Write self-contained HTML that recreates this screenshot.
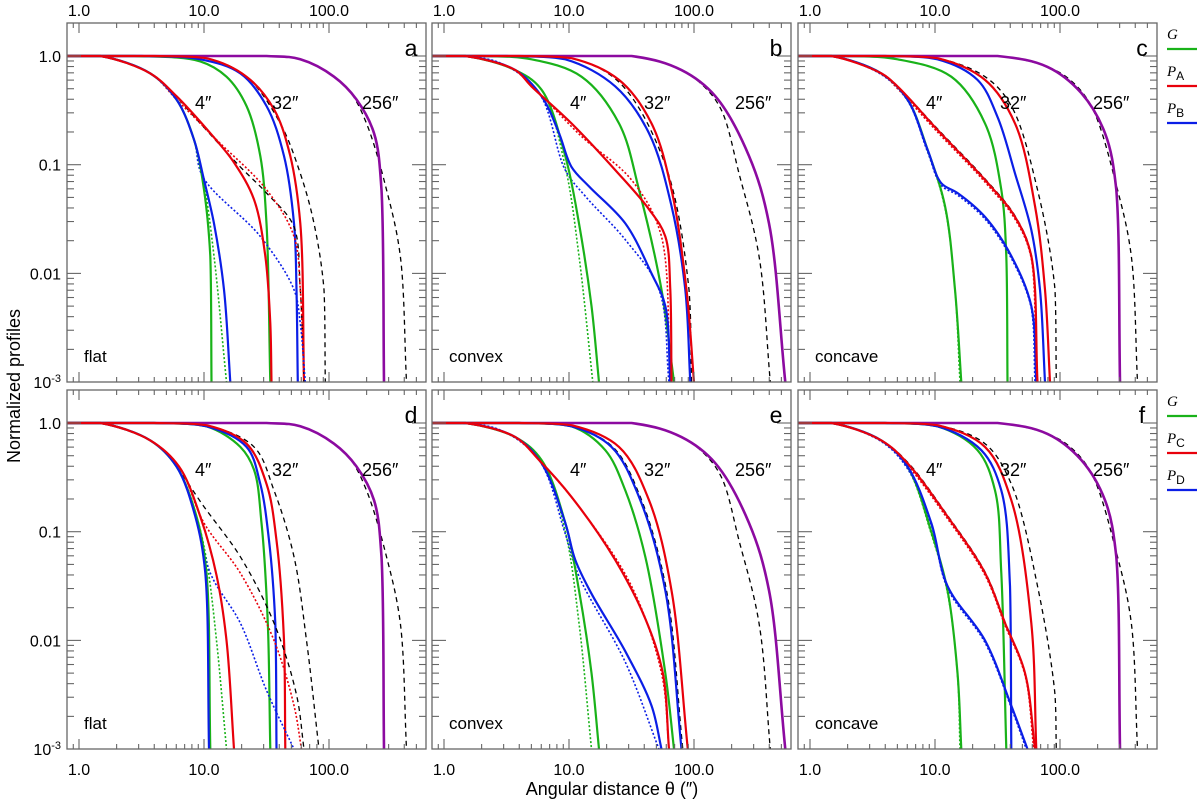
<!DOCTYPE html>
<html><head><meta charset="utf-8"><style>
html,body{margin:0;padding:0;background:#fff;}
svg{display:block;font-family:"Liberation Sans",sans-serif;}
</style></head><body>
<svg id="chart" width="1200" height="801" viewBox="0 0 1200 801"></svg>
<script>
// data: [log10(theta"), log10(profile)] pairs per series
const panelLetters = ["a","b","c","d","e","f"];
const panelShapes = ["flat","convex","concave","flat","convex","concave"];
const widthLabels = ["4″","32″","256″"];
const xTickLabels = ["1.0","10.0","100.0"];
const yTickLabels = ["1.0","0.1","0.01","10-3"];
const legendTop = ["G","PA","PB"];
const legendBottom = ["G","PC","PD"];

const p256a = [[-0.1,0],[1.5,0],[1.77,-0.03],[2.04,-0.19],[2.22,-0.40],[2.36,-0.71],[2.42,-1.23],[2.44,-3]];
const d256a = [[-0.1,0],[1.5,0],[1.77,-0.03],[2.04,-0.19],[2.17,-0.33],[2.30,-0.62],[2.46,-1.23],[2.57,-1.84],[2.62,-3]];
const p256b = [[-0.1,0],[1.5,0],[1.90,-0.13],[2.17,-0.37],[2.44,-0.92],[2.60,-1.54],[2.73,-3]];
const d256b = [[-0.1,0],[1.5,0],[1.88,-0.12],[2.08,-0.28],[2.22,-0.50],[2.36,-1.08],[2.52,-1.84],[2.61,-3]];
const p256c = [[-0.1,0],[1.5,0],[1.90,-0.10],[2.17,-0.34],[2.36,-0.71],[2.45,-1.23],[2.48,-3]];
const d256c = [[-0.1,0],[1.5,0],[1.90,-0.10],[2.08,-0.22],[2.25,-0.46],[2.46,-1.23],[2.57,-1.84],[2.62,-3]];

const panelA = {
 g32:[[-0.1,0],[0.44,0],[0.97,-0.05],[1.18,-0.19],[1.34,-0.46],[1.45,-0.92],[1.50,-1.54],[1.53,-3]],
 b32:[[-0.1,0],[0.5,0],[0.97,-0.03],[1.29,-0.16],[1.5,-0.46],[1.64,-0.92],[1.72,-1.54],[1.74,-2.15],[1.75,-3]],
 r32:[[-0.1,0],[0.6,0],[1.02,-0.02],[1.34,-0.19],[1.56,-0.49],[1.69,-0.92],[1.77,-1.54],[1.80,-3]],
 d32:[[-0.1,0],[0.6,0],[1.02,-0.02],[1.34,-0.19],[1.61,-0.62],[1.77,-1.08],[1.88,-1.54],[1.96,-2.15],[1.97,-3]],
 g4:[[-0.1,0],[0.17,0],[0.57,-0.16],[0.78,-0.40],[0.92,-0.77],[1.0,-1.23],[1.05,-1.84],[1.06,-3]],
 g4d:[[-0.1,0],[0.17,0],[0.57,-0.16],[0.78,-0.40],[0.92,-0.77],[1.0,-1.17],[1.08,-1.84],[1.18,-3]],
 b4:[[-0.1,0],[0.17,0],[0.57,-0.16],[0.78,-0.40],[0.92,-0.77],[1.0,-1.14],[1.08,-1.54],[1.16,-2.15],[1.21,-3]],
 b4d:[[-0.1,0],[0.17,0],[0.57,-0.16],[0.78,-0.40],[0.92,-0.77],[0.99,-1.11],[1.45,-1.66],[1.72,-2.15],[1.77,-2.46],[1.81,-3]],
 r4:[[-0.1,0],[0.17,0],[0.57,-0.16],[0.78,-0.37],[1.05,-0.71],[1.24,-0.98],[1.40,-1.32],[1.49,-1.84],[1.53,-2.46],[1.54,-3]],
 r4d:[[-0.1,0],[0.17,0],[0.57,-0.16],[0.78,-0.40],[1.10,-0.77],[1.50,-1.23],[1.72,-1.66],[1.77,-2.15],[1.80,-3]],
 d4:[[-0.1,0],[0.17,0],[0.57,-0.16],[0.70,-0.28],[0.97,-0.62],[1.29,-1.02],[1.50,-1.26],[1.72,-1.57],[1.77,-2.15],[1.80,-3]],
 p256:p256a, d256:d256a};
const panelB = {
 g32:[[-0.1,0],[0.3,0],[0.70,-0.03],[1.10,-0.19],[1.40,-0.62],[1.56,-1.23],[1.74,-2.15],[1.84,-3]],
 b32:[[-0.1,0],[0.5,0],[0.97,-0.03],[1.37,-0.28],[1.64,-0.71],[1.82,-1.38],[1.93,-2.15],[1.97,-3]],
 r32:[[-0.1,0],[0.6,0],[1.02,-0.02],[1.40,-0.22],[1.66,-0.62],[1.82,-1.23],[1.94,-2.15],[2.00,-3]],
 d32:[[-0.1,0],[0.6,0],[1.02,-0.02],[1.40,-0.24],[1.77,-1.0],[1.96,-2.15],[1.98,-3]],
 g4:[[-0.1,0],[0.17,0],[0.57,-0.13],[0.78,-0.31],[0.97,-0.92],[1.08,-1.54],[1.18,-2.3],[1.24,-3]],
 g4d:[[-0.1,0],[0.17,0],[0.57,-0.13],[0.78,-0.31],[0.97,-1.02],[1.08,-1.84],[1.19,-3]],
 b4:[[-0.1,0],[0.17,0],[0.57,-0.13],[0.78,-0.37],[0.92,-0.71],[1.02,-1.02],[1.16,-1.20],[1.45,-1.54],[1.66,-2.0],[1.77,-2.30],[1.81,-3]],
 b4d:[[-0.1,0],[0.1,0],[0.44,-0.06],[0.76,-0.34],[0.97,-1.05],[1.13,-1.29],[1.45,-1.69],[1.72,-2.15],[1.80,-3]],
 r4:[[-0.1,0],[0.17,0],[0.57,-0.13],[0.70,-0.28],[1.02,-0.62],[1.37,-1.05],[1.64,-1.41],[1.77,-1.66],[1.81,-2.15],[1.82,-3]],
 r4d:[[-0.1,0],[0.17,0],[0.57,-0.13],[0.76,-0.34],[1.10,-0.74],[1.50,-1.14],[1.74,-1.66],[1.81,-3]],
 d4:[[-0.1,0],[0.17,0],[0.57,-0.13],[0.70,-0.28],[1.02,-0.62],[1.37,-1.05],[1.64,-1.41],[1.77,-1.66],[1.81,-2.15],[1.82,-3]],
 p256:p256b, d256:d256b};
const panelC = {
 g32:[[-0.1,0],[0.3,0],[0.7,-0.03],[1.13,-0.19],[1.40,-0.62],[1.53,-1.23],[1.57,-1.84],[1.58,-3]],
 b32:[[-0.1,0],[0.6,0],[1.02,-0.03],[1.34,-0.22],[1.50,-0.56],[1.64,-1.08],[1.77,-1.60],[1.84,-2.15],[1.88,-3]],
 r32:[[-0.1,0],[0.6,0],[1.02,-0.02],[1.40,-0.22],[1.64,-0.62],[1.80,-1.38],[1.88,-2.15],[1.92,-3]],
 d32:[[-0.1,0],[0.6,0],[1.02,-0.02],[1.40,-0.19],[1.61,-0.46],[1.82,-1.23],[1.96,-2.15],[1.97,-3]],
 g4:[[-0.1,0],[0.17,0],[0.57,-0.16],[0.78,-0.40],[0.94,-0.86],[1.08,-1.38],[1.16,-2.15],[1.21,-3]],
 g4d:[[-0.1,0],[0.17,0],[0.57,-0.16],[0.78,-0.40],[0.94,-0.86],[1.08,-1.40],[1.16,-2.15],[1.20,-3]],
 b4:[[-0.1,0],[0.17,0],[0.57,-0.16],[0.78,-0.40],[0.94,-0.86],[1.05,-1.17],[1.18,-1.26],[1.40,-1.48],[1.61,-1.84],[1.77,-2.30],[1.81,-3]],
 b4d:[[-0.1,0],[0.17,0],[0.57,-0.17],[0.78,-0.41],[0.94,-0.88],[1.05,-1.19],[1.18,-1.28],[1.40,-1.50],[1.61,-1.86],[1.77,-2.32],[1.80,-3]],
 r4:[[-0.1,0],[0.17,0],[0.57,-0.16],[0.70,-0.28],[1.02,-0.68],[1.40,-1.14],[1.64,-1.48],[1.77,-1.84],[1.82,-3]],
 r4d:[[-0.1,0],[0.17,0],[0.57,-0.16],[0.70,-0.30],[1.02,-0.70],[1.40,-1.16],[1.64,-1.50],[1.77,-1.86],[1.81,-3]],
 d4:[[-0.1,0],[0.17,0],[0.57,-0.16],[0.70,-0.28],[1.02,-0.67],[1.40,-1.13],[1.64,-1.47],[1.77,-1.83],[1.82,-3]],
 p256:p256c, d256:d256c};
const panelD = {
 g32:[[-0.1,0],[0.6,0],[1.02,-0.03],[1.29,-0.22],[1.40,-0.43],[1.46,-0.92],[1.51,-1.84],[1.53,-3]],
 b32:[[-0.1,0],[0.6,0],[1.02,-0.03],[1.34,-0.22],[1.45,-0.56],[1.52,-1.08],[1.57,-1.84],[1.58,-3]],
 r32:[[-0.1,0],[0.6,0],[1.02,-0.02],[1.34,-0.19],[1.50,-0.56],[1.58,-1.08],[1.64,-2.0],[1.65,-3]],
 d32:[[-0.1,0],[0.6,0],[1.02,-0.02],[1.40,-0.22],[1.56,-0.62],[1.72,-1.23],[1.82,-2.0],[1.92,-3]],
 g4:[[-0.1,0],[0.17,0],[0.57,-0.16],[0.78,-0.40],[0.94,-0.86],[1.02,-1.38],[1.05,-3]],
 g4d:[[-0.1,0],[0.17,0],[0.57,-0.16],[0.78,-0.40],[0.94,-0.86],[1.02,-1.26],[1.10,-2.0],[1.18,-3]],
 b4:[[-0.1,0],[0.17,0],[0.57,-0.16],[0.78,-0.40],[0.93,-0.86],[1.01,-1.38],[1.04,-3]],
 b4d:[[-0.1,0],[0.17,0],[0.57,-0.16],[0.78,-0.40],[0.94,-0.86],[1.05,-1.38],[1.29,-1.84],[1.50,-2.46],[1.72,-3]],
 r4:[[-0.1,0],[0.17,0],[0.57,-0.16],[0.80,-0.40],[0.97,-0.86],[1.10,-1.4],[1.18,-2.0],[1.24,-3]],
 r4d:[[-0.1,0],[0.17,0],[0.57,-0.16],[0.80,-0.40],[1.0,-0.92],[1.29,-1.38],[1.56,-2.0],[1.72,-2.6],[1.78,-3]],
 d4:[[-0.1,0],[0.17,0],[0.57,-0.16],[0.70,-0.28],[1.0,-0.77],[1.29,-1.23],[1.56,-1.84],[1.74,-2.5],[1.80,-3]],
 p256:p256a, d256:d256a};
const panelE = {
 g32:[[-0.1,0],[0.6,0],[1.02,-0.03],[1.29,-0.25],[1.45,-0.62],[1.61,-1.23],[1.77,-2.3],[1.84,-3]],
 b32:[[-0.1,0],[0.6,0],[1.02,-0.03],[1.34,-0.22],[1.56,-0.68],[1.77,-1.54],[1.90,-3]],
 r32:[[-0.1,0],[0.6,0],[1.02,-0.02],[1.40,-0.22],[1.64,-0.71],[1.82,-1.54],[1.95,-3]],
 d32:[[-0.1,0],[0.6,0],[1.02,-0.03],[1.35,-0.22],[1.57,-0.68],[1.78,-1.54],[1.91,-3]],
 g4:[[-0.1,0],[0.17,0],[0.57,-0.13],[0.78,-0.34],[0.97,-0.92],[1.08,-1.54],[1.18,-2.3],[1.24,-3]],
 g4d:[[-0.1,0],[0.17,0],[0.57,-0.13],[0.78,-0.34],[0.97,-1.0],[1.08,-1.84],[1.18,-3]],
 b4:[[-0.1,0],[0.17,0],[0.57,-0.13],[0.78,-0.37],[0.97,-0.92],[1.05,-1.26],[1.18,-1.57],[1.45,-2.1],[1.66,-2.6],[1.74,-3]],
 b4d:[[-0.1,0],[0.1,0],[0.44,-0.06],[0.76,-0.34],[0.97,-1.02],[1.08,-1.41],[1.45,-2.2],[1.72,-3]],
 r4:[[-0.1,0],[0.17,0],[0.57,-0.13],[0.76,-0.34],[1.02,-0.68],[1.37,-1.26],[1.61,-1.8],[1.75,-2.3],[1.80,-3]],
 r4d:[[-0.1,0],[0.17,0],[0.57,-0.13],[0.76,-0.34],[1.10,-0.80],[1.50,-1.5],[1.74,-2.3],[1.80,-3]],
 d4:[[-0.1,0],[0.17,0],[0.57,-0.13],[0.76,-0.34],[1.02,-0.68],[1.37,-1.26],[1.61,-1.8],[1.75,-2.3],[1.80,-3]],
 p256:p256b, d256:d256b};
const panelF = {
 g32:[[-0.1,0],[0.6,0],[1.02,-0.03],[1.34,-0.25],[1.48,-0.62],[1.53,-1.38],[1.57,-3]],
 b32:[[-0.1,0],[0.6,0],[1.02,-0.03],[1.37,-0.25],[1.53,-0.62],[1.60,-1.5],[1.61,-3]],
 r32:[[-0.1,0],[0.6,0],[1.02,-0.02],[1.40,-0.22],[1.61,-0.71],[1.77,-1.84],[1.81,-3]],
 d32:[[-0.1,0],[0.6,0],[1.02,-0.02],[1.40,-0.19],[1.61,-0.56],[1.82,-1.5],[1.96,-2.5],[1.97,-3]],
 g4:[[-0.1,0],[0.17,0],[0.57,-0.16],[0.78,-0.40],[0.97,-1.0],[1.10,-1.54],[1.18,-2.3],[1.21,-3]],
 g4d:[[-0.1,0],[0.17,0],[0.57,-0.16],[0.78,-0.41],[0.97,-1.02],[1.10,-1.56],[1.18,-2.32],[1.20,-3]],
 b4:[[-0.1,0],[0.17,0],[0.57,-0.16],[0.78,-0.40],[0.97,-0.92],[1.10,-1.5],[1.40,-2.0],[1.61,-2.6],[1.74,-3]],
 b4d:[[-0.1,0],[0.17,0],[0.57,-0.17],[0.78,-0.42],[0.97,-0.94],[1.10,-1.52],[1.40,-2.02],[1.61,-2.62],[1.73,-3]],
 r4:[[-0.1,0],[0.17,0],[0.57,-0.16],[0.78,-0.37],[1.10,-0.86],[1.40,-1.38],[1.56,-1.84],[1.72,-2.3],[1.80,-3]],
 r4d:[[-0.1,0],[0.17,0],[0.57,-0.16],[0.78,-0.39],[1.10,-0.88],[1.40,-1.40],[1.56,-1.86],[1.72,-2.32],[1.79,-3]],
 d4:[[-0.1,0],[0.17,0],[0.57,-0.16],[0.78,-0.36],[1.10,-0.85],[1.40,-1.37],[1.56,-1.83],[1.72,-2.3],[1.80,-3]],
 p256:p256c, d256:d256c};
const panels = [panelA,panelB,panelC,panelD,panelE,panelF];

const NS="http://www.w3.org/2000/svg";
const svg=document.getElementById('chart');
const lefts=[67,432,798], tops=[23,390], PW=359, PH=359;
const COL={g:"#19b219",r:"#e8000b",b:"#0b1ee6",p:"#8c0aa0",k:"#000"};
function mk(tag,attrs,parent){const e=document.createElementNS(NS,tag);for(const k in attrs)e.setAttribute(k,attrs[k]);(parent||svg).appendChild(e);return e;}
function xs(L,lt){return L+12+125*lt;}
function ys(T,lv){return T+33-108.7*lv;}
function clamp(v,a,b){const lo=Math.min(a,b),hi=Math.max(a,b);return Math.max(lo,Math.min(hi,v));}

// centripetal Catmull-Rom through screen points, control points clamped (no overshoot)
function smoothPath(P){
  const n=P.length;
  const ext=[[2*P[0][0]-P[1][0],2*P[0][1]-P[1][1]],...P,[2*P[n-1][0]-P[n-2][0],2*P[n-1][1]-P[n-2][1]]];
  let d='M'+P[0][0].toFixed(1)+','+P[0][1].toFixed(1);
  const dist=(a,b)=>Math.max(1e-4,Math.pow(Math.hypot(b[0]-a[0],b[1]-a[1]),0.5));
  for(let i=1;i<ext.length-2;i++){
    const p0=ext[i-1],p1=ext[i],p2=ext[i+1],p3=ext[i+2];
    const t1=dist(p0,p1),t2=dist(p1,p2),t3=dist(p2,p3);
    const c1=[0,1].map(k=>{const m=(p1[k]-p0[k])/t1-(p2[k]-p0[k])/(t1+t2)+(p2[k]-p1[k])/t2;return clamp(p1[k]+m*t2/3,p1[k],p2[k]);});
    const c2=[0,1].map(k=>{const m=(p2[k]-p1[k])/t2-(p3[k]-p1[k])/(t2+t3)+(p3[k]-p2[k])/t3;return clamp(p2[k]-m*t2/3,p1[k],p2[k]);});
    d+=' C'+c1[0].toFixed(1)+','+c1[1].toFixed(1)+' '+c2[0].toFixed(1)+','+c2[1].toFixed(1)+' '+p2[0].toFixed(1)+','+p2[1].toFixed(1);
  }
  return d;
}

const styles={
 d256:{c:COL.k,w:1.3,da:"5,4"}, p256:{c:COL.p,w:2.6},
 d32:{c:COL.k,w:1.3,da:"5,4"}, g32:{c:COL.g,w:2.2}, b32:{c:COL.b,w:2.2}, r32:{c:COL.r,w:2.2},
 d4:{c:COL.k,w:1.3,da:"5,4"}, g4d:{c:COL.g,w:1.6,da:"2,2"}, b4d:{c:COL.b,w:1.6,da:"2,2"}, r4d:{c:COL.r,w:1.6,da:"2,2"},
 g4:{c:COL.g,w:2.2}, b4:{c:COL.b,w:2.2}, r4:{c:COL.r,w:2.2}};
const order=["d256","p256","d32","g32","b32","r32","d4","g4d","b4d","r4d","g4","b4","r4"];
const labelOffsets=[[128,205,295],[138,212,303],[128,202,295]];

const defs=mk('defs',{});
panels.forEach((pd,i)=>{
  const L=lefts[i%3], T=tops[Math.floor(i/3)];
  const cp=mk('clipPath',{id:'cp'+i},defs); mk('rect',{x:L,y:T,width:PW,height:PH},cp);
  const g=mk('g',{'clip-path':'url(#cp'+i+')'});
  
  
  order.forEach(key=>{
    const pts=pd[key]; if(!pts) return;
    const s=styles[key];
    const scr=pts.map(p=>[xs(L,p[0]),ys(T,p[1])]);
    const path=mk('path',{d:smoothPath(scr),fill:'none',stroke:s.c,'stroke-width':s.w,'stroke-linejoin':'round'},g);
    if(s.da) path.setAttribute('stroke-dasharray',s.da);
    
    
  });
  const fr=mk('rect',{x:L,y:T,width:PW,height:PH,fill:'none',stroke:'#666','stroke-width':1.3});
  
  
  for(let e=-1;e<=2;e++){for(let m=1;m<=9;m++){
    const lt=e+Math.log10(m); const x=xs(L,lt); if(x<L+1||x>L+PW-1) continue;
    const len=(m===1)?10:5;
    mk('line',{x1:x,y1:T+PH,x2:x,y2:T+PH-len,stroke:'#666','stroke-width':1.1});
    mk('line',{x1:x,y1:T,x2:x,y2:T+len,stroke:'#666','stroke-width':1.1});
  }}
  for(let e=-3;e<=0;e++){for(let m=1;m<=9;m++){
    const lv=e+Math.log10(m); const y=ys(T,lv); if(y<T+1||y>T+PH-1) continue;
    const len=(m===1)?14:7;
    mk('line',{x1:L,y1:y,x2:L+len,y2:y,stroke:'#666','stroke-width':1.1});
    mk('line',{x1:L+PW,y1:y,x2:L+PW-len,y2:y,stroke:'#666','stroke-width':1.1});
  }}
  const lx=labelOffsets[i%3];
  widthLabels.forEach((w,k)=>{
    const t=mk('text',{x:L+lx[k],y:T+86,'font-size':18});t.textContent=w;
    
    
  });
  const pl=mk('text',{x:L+344,y:T+33,'font-size':23,'text-anchor':'middle'});pl.textContent=panelLetters[i];
  
  
  const sh=mk('text',{x:L+17,y:T+339,'font-size':17});sh.textContent=panelShapes[i];
  
  
  xTickLabels.forEach((lab,k)=>{
    const x=xs(L,k);
    const y=(i<3)?16:775;
    const t=mk('text',{x:x,y:y,'font-size':16,'text-anchor':'middle'});t.textContent=lab;
    
    
  });
  if(i%3===0){
    yTickLabels.forEach((lab,k)=>{
      const y=ys(T,-k)+6;
      const t=mk('text',{x:61,y:y,'font-size':16,'text-anchor':'end'});
      if(k===3){t.textContent='10';const s=mk('tspan',{dy:-6,'font-size':11},t);s.textContent='-3';}
      else t.textContent=lab;
      
      
    });
  }
});
[[legendTop,23],[legendBottom,390]].forEach(([lab,T],r)=>{
  const cols=[COL.g,COL.r,COL.b];
  lab.forEach((l,k)=>{
    const y=T+16+k*37;
    const t=mk('text',{x:1167,y:y,'font-size':15,'font-family':'Liberation Serif, serif','font-style':'italic'});
    t.textContent=l[0];
    if(l.length>1){const s=mk('tspan',{dy:4,'font-size':12,'font-style':'normal','font-family':'Liberation Sans, sans-serif'},t);s.textContent=l.slice(1);}
    
    
    const ln=mk('line',{x1:1167,y1:y+10,x2:1197,y2:y+10,stroke:cols[k],'stroke-width':2.2});
    
    
  });
});
const yt=mk('text',{x:20,y:386,'font-size':18,'text-anchor':'middle',transform:'rotate(-90 20 386)'});
yt.textContent='Normalized profiles';


const xt=mk('text',{x:612,y:795,'font-size':18,'text-anchor':'middle'});
xt.textContent='Angular distance θ (″)';


</script>
</body></html>
